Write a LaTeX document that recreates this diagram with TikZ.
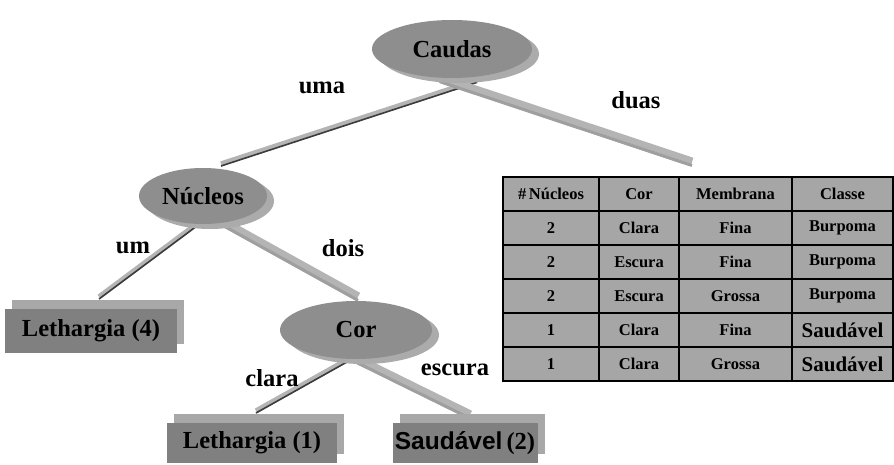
\documentclass[tikz,border=0pt]{standalone}
\usepackage{fontspec}
\setmainfont{Liberation Serif}
\newfontfamily\arialf{Liberation Sans}
\usetikzlibrary{shapes.geometric,shadows,backgrounds,calc}
\definecolor{facegray}{HTML}{8E8E8E}
\definecolor{rimgray}{HTML}{ABABAB}
\definecolor{boxfront}{HTML}{808080}
\definecolor{boxtop}{HTML}{A8A8A8}
\definecolor{cellgray}{HTML}{A6A6A6}
\definecolor{barlight}{HTML}{B4B4B4}
\definecolor{bardark}{HTML}{3C3C3C}
\newcommand\bigsaud{{\fontsize{21}{21}\selectfont Saud\'avel}}
\begin{document}
\begin{tikzpicture}[x=1pt,y=-1pt,
  font=\bfseries\fontsize{24.5}{26}\selectfont,
  ell/.style={ellipse, fill=facegray, inner sep=0pt,
    general shadow={fill=rimgray, shadow xshift=7pt, shadow yshift=-5pt}},
  leaf/.style={rectangle, fill=boxfront, inner sep=0pt, minimum height=44pt,
    general shadow={fill=boxtop, shadow xshift=7pt, shadow yshift=9pt}},
  barthin/.style={line width=5pt, draw=barlight,
    postaction={draw=bardark, line width=1.6pt, transform canvas={shift={(0pt,-2.2pt)}}}},
  barwide/.style={line width=9pt, draw=barlight,
    postaction={draw=gray!75, line width=3pt, transform canvas={shift={(0pt,-3.5pt)}}}},
  lbl/.style={inner sep=1pt},
  cell/.style={rectangle, draw=black, line width=2.6pt, fill=cellgray,
    minimum height=34pt, inner sep=0pt, font=\bfseries\fontsize{16.5}{18}\selectfont}
]
\useasboundingbox (0,0) rectangle (894,465);

% tree nodes
\node[ell, minimum width=160pt, minimum height=58pt] (caudas) at (452,49) {Caudas};
\node[ell, minimum width=128pt, minimum height=56pt] (nucleos) at (203,196) {N\'ucleos};
\node[ell, minimum width=152pt, minimum height=58pt] (cor) at (356,330) {Cor};

\node[leaf, minimum width=172pt] (leth4) at (91,331) {Lethargia (4)};
\node[leaf, minimum width=170pt, minimum height=40pt] (leth1) at (252,443) {Lethargia (1)};
\node[leaf, minimum width=145pt, minimum height=40pt] (saud) at (465,443) {{\arialf Saud\'avel}\,(2)};

\coordinate (tabend) at (692,162);

% connectors behind the nodes
\begin{scope}[on background layer]
  \draw[barthin] ($(caudas.south)+(25,2)$) -- ($(nucleos.north)+(18,-4)$);
  \draw[barwide] ($(caudas.south)+(-12,0)$) -- (tabend);
  \draw[barthin] ($(nucleos.south)+(0,-5)$) -- ($(leth4.north)+(8,-12)$);
  \draw[barwide] ($(nucleos.south)+(15,-5)$) -- ($(cor.north)+(2,-4)$);
  \draw[barthin] ($(cor.south)+(-8,0)$) -- ($(leth1.north)+(4,-12)$);
  \draw[barwide] ($(cor.south)+(-5,-3)$) -- ($(saud.north)+(5,-8)$);
\end{scope}

% edge labels
\node[lbl] (l-uma) at (322,88) {uma};
\node[lbl] (l-duas) at (636,100) {duas};
\node[lbl] (l-um) at (133,248) {um};
\node[lbl] (l-dois) at (343,248) {dois};
\node[lbl] (l-clara) at (272,378) {clara};
\node[lbl] (l-escura) at (455,370) {escura};

% table
\foreach \r/\y/\a/\b/\c/\d in {
  0/194/{\#\,N\'ucleos}/Cor/Membrana/Classe,
  1/228/2/Clara/Fina/Burpoma,
  2/262/2/Escura/Fina/Burpoma,
  3/296/2/Escura/Grossa/Burpoma,
  4/330/1/Clara/Fina/\bigsaud,
  5/364/1/Clara/Grossa/\bigsaud} {
  \node[cell, minimum width=96pt] (t\r-1) at (551,\y) {\a};
  \node[cell, minimum width=80pt] (t\r-2) at (639,\y) {\b};
  \node[cell, minimum width=113pt] (t\r-3) at (735.5,\y) {\c};
  \node[cell, minimum width=101pt] (t\r-4) at (842.5,\y) {\d};
}
\end{tikzpicture}
\end{document}
